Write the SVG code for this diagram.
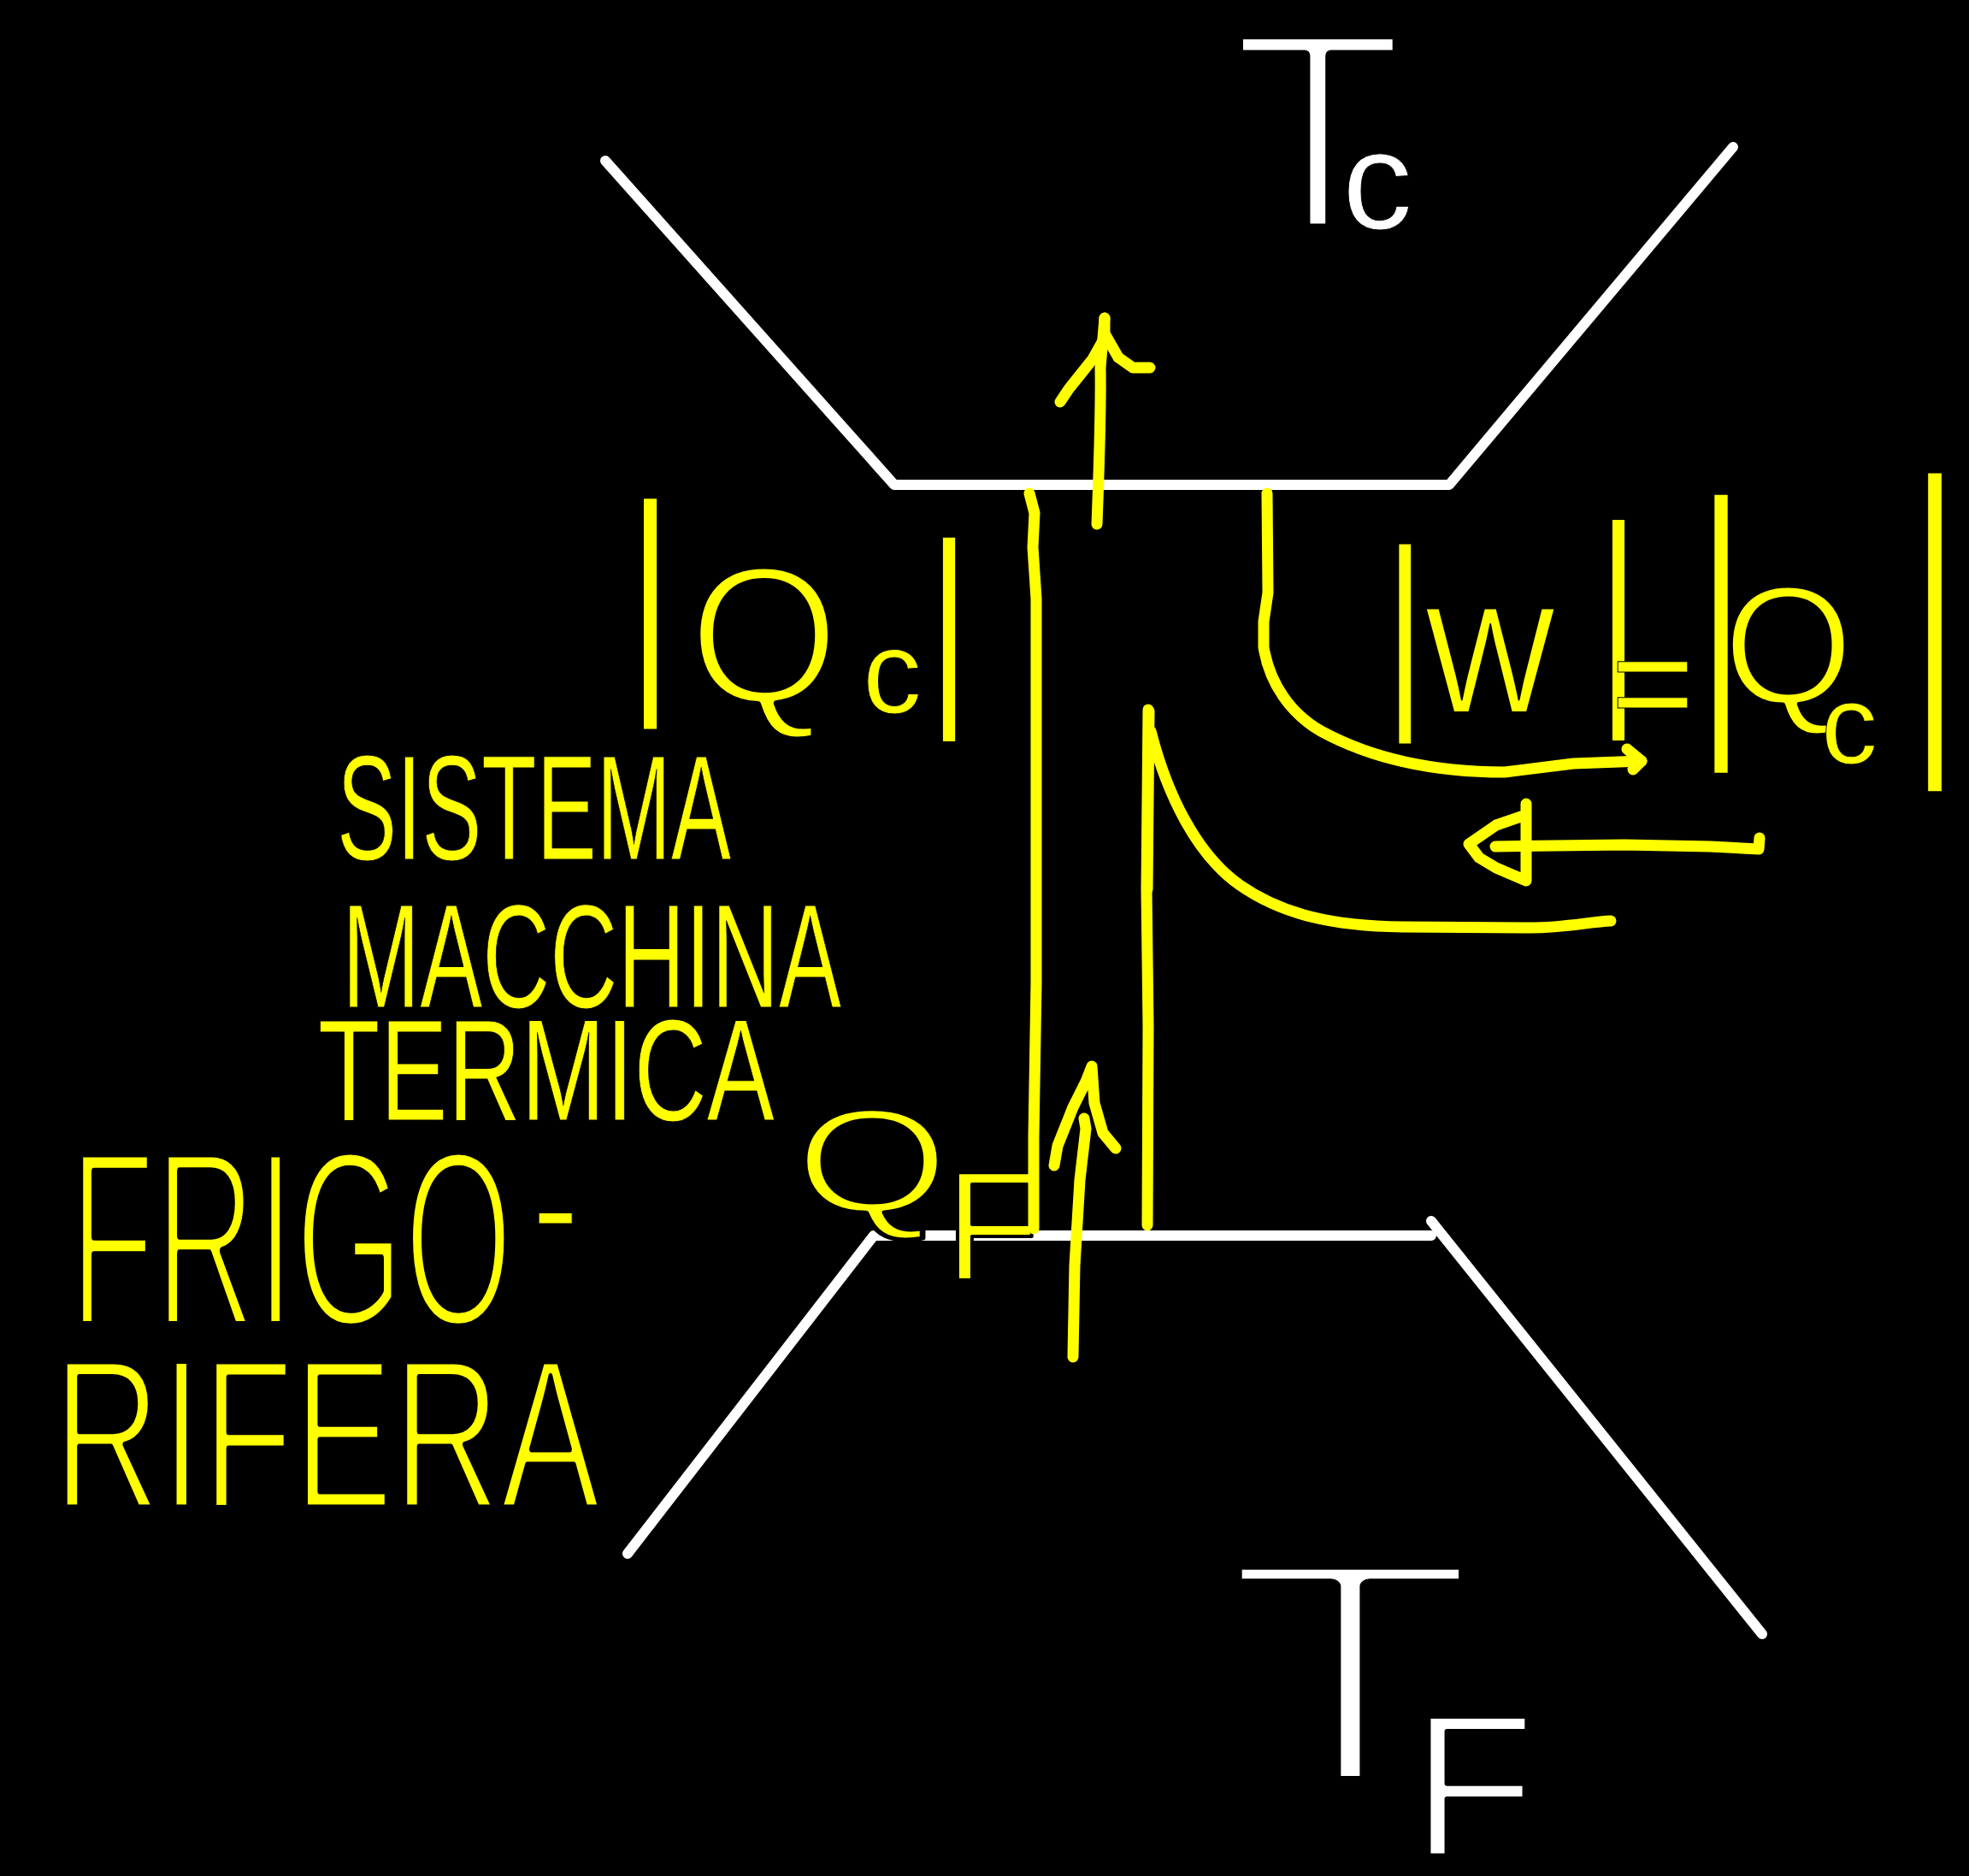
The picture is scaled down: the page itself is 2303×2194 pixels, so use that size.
<svg xmlns="http://www.w3.org/2000/svg" width="2303" height="2194" viewBox="0 0 2303 2194">
<style>
.wl{stroke:#fff;stroke-width:12;fill:none;stroke-linecap:round;stroke-linejoin:round}
.yl{stroke:#ff0;stroke-width:13;fill:none;stroke-linecap:round;stroke-linejoin:round}
.yt{fill:#ff0;stroke:#000;stroke-linejoin:round;font-family:"Liberation Sans",Arial,sans-serif}
.wt{fill:#fff;stroke:#000;stroke-linejoin:round;font-family:"Liberation Sans",Arial,sans-serif}
</style>
<rect width="2303" height="2194" fill="#000"/>
<g id="hot-reservoir">
<path class="wl" d="M708,188 L1046,567 L1695,567 L2027,172"/>
<text class="wt"><tspan x="1440" y="268" font-size="332" stroke-width="13">T</tspan><tspan x="1570" y="267" font-size="164" stroke-width="1">c</tspan></text>
</g>
<g id="cold-reservoir">
<path class="wl" d="M734,1817 L1022,1445 L1674,1445"/>
<path class="wl" d="M1674,1428 L2061,1911"/>
<text class="wt"><tspan x="1430" y="2086" font-size="377" stroke-width="18" textLength="299" lengthAdjust="spacingAndGlyphs">T</tspan><tspan x="1651" y="2170" font-size="237" stroke-width="6">F</tspan></text>
</g>
<g id="label-qc-left">
<text class="yt"><tspan x="722" y="794" font-size="297" stroke-width="9">|</tspan><tspan x="805" y="822" font-size="228" stroke-width="7">Q</tspan><tspan x="1009" y="834" font-size="138" stroke-width="1">c</tspan><tspan x="1076" y="815" font-size="262" stroke-width="7">|</tspan></text>
</g>
<g id="label-w-qc">
<text class="yt"><tspan x="1610" y="819" font-size="256" stroke-width="7">|</tspan><tspan x="1667" y="833" font-size="176" stroke-width="2" textLength="152" lengthAdjust="spacingAndGlyphs">W</tspan><tspan x="1856" y="810" font-size="285" stroke-width="9">|</tspan><tspan x="1884" y="856" font-size="168" stroke-width="1">=</tspan><tspan x="1966" y="834" font-size="362" stroke-width="14">|</tspan><tspan x="2015" y="823" font-size="197" stroke-width="5">Q</tspan><tspan x="2130" y="893" font-size="132" stroke-width="1">c</tspan><tspan x="2209" y="846" font-size="416" stroke-width="18">|</tspan></text>
</g>
<g id="label-sistema">
<text class="yt" x="394" y="1005" font-size="175" stroke-width="1" textLength="461" lengthAdjust="spacingAndGlyphs">SISTEMA</text>
<text class="yt" x="400" y="1178" font-size="172" stroke-width="1" textLength="584" lengthAdjust="spacingAndGlyphs">MACCHINA</text>
<text class="yt" x="372" y="1310" font-size="168" stroke-width="1" textLength="534" lengthAdjust="spacingAndGlyphs">TERMICA</text>
</g>
<g id="label-frigorifera">
<text class="yt"><tspan x="81" y="1550" font-size="293" stroke-width="10" textLength="519" lengthAdjust="spacingAndGlyphs">FRIGO</tspan><tspan x="623" y="1467" font-size="160" stroke-width="1">-</tspan></text>
<text class="yt" x="62" y="1763" font-size="249" stroke-width="7" textLength="640" lengthAdjust="spacingAndGlyphs">RIFERA</text>
</g>
<g id="label-qf">
<text class="yt"><tspan x="930" y="1417" font-size="172" stroke-width="5" textLength="180" lengthAdjust="spacingAndGlyphs">Q</tspan><tspan x="1105" y="1497" font-size="182" stroke-width="4">F</tspan></text>
</g>
<g id="connectors">
<path class="yl" d="M1204,577 L1210,600 L1208,640 L1212,700 L1212,1150 L1209,1330 L1209,1437"/>
<path class="yl" d="M1343,830 L1341,1040 L1343,1200 L1342,1433"/>
<path class="yl" stroke-width="22" d="M1344,832 L1342,1040"/>
<path class="yl" d="M1346,855 C1365,930 1400,1000 1450,1035 C1500,1070 1560,1083 1640,1084 L1790,1085 C1830,1085 1860,1078 1884,1077"/>
<path class="yl" d="M1283,613 C1285,560 1288,480 1287,430 L1292,372"/>
<path class="yl" d="M1240,470 L1250,455 L1278,420 L1292,395 L1292,372 M1292,390 L1308,418 L1325,430 L1345,430"/>
<path class="yl" d="M1482,577 L1483,693 L1478,727 L1478,757 C1485,800 1510,835 1545,855 C1600,885 1670,903 1760,903 L1840,893 L1920,890"/>
<path class="yl" d="M1903,876 L1920,890 L1910,900"/>
<path class="yl" d="M2058,980 L2057,993 L2000,990 L1900,988 L1749,990"/>
<path class="yl" d="M1785,940 L1785,953 L1750,965 L1718,987 L1730,1003 L1750,1015 L1785,1030 L1785,953"/>
<path class="yl" d="M1255,1587 L1257,1480 L1263,1380 L1270,1320 L1268,1308"/>
<path class="yl" d="M1233,1363 L1237,1340 L1255,1295 L1270,1265 L1277,1247 L1280,1290 L1290,1325 L1305,1343"/>
</g>
</svg>
